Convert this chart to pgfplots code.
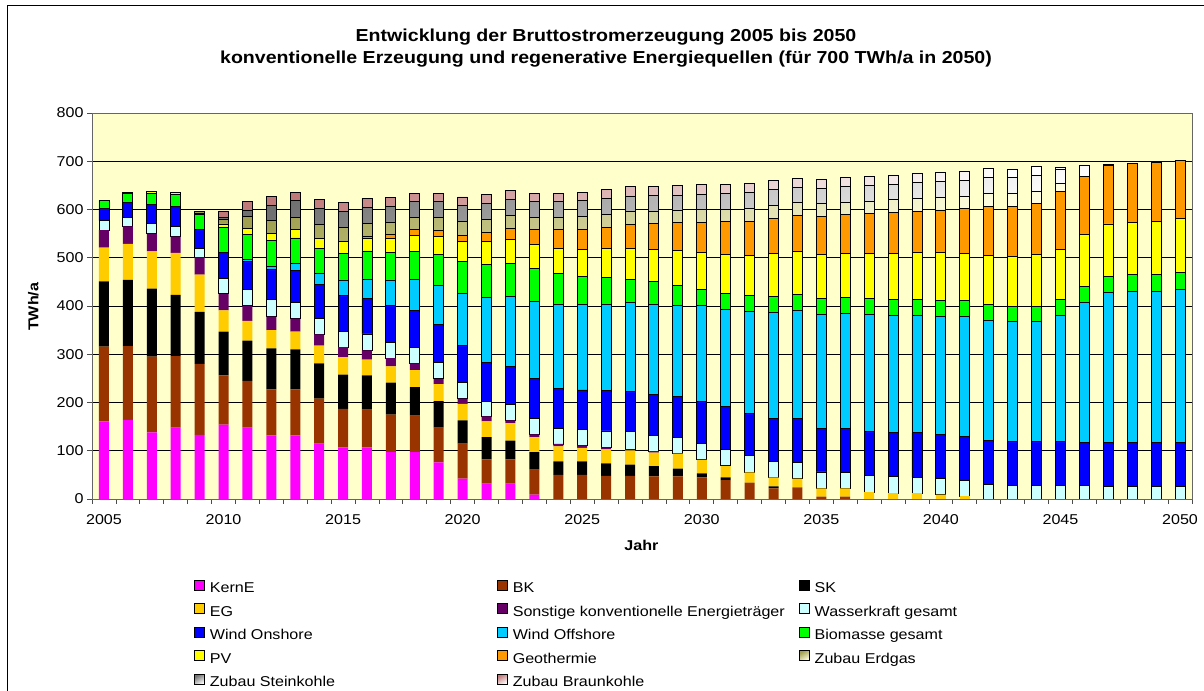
\documentclass[border=0pt]{standalone}
\usepackage{fontspec}
\setmainfont{Liberation Sans}[FakeStretch=1.13]
\usepackage{pgfplots}
\pgfplotsset{compat=1.18}
\usepackage{pgfplotstable}

\definecolor{cKern}{HTML}{FF00FF}
\definecolor{cBK}{HTML}{993300}
\definecolor{cSK}{HTML}{000000}
\definecolor{cEG}{HTML}{FFCC00}
\definecolor{cSon}{HTML}{660066}
\definecolor{cWas}{HTML}{CCFFFF}
\definecolor{cWon}{HTML}{0000FF}
\definecolor{cWof}{HTML}{00CCFF}
\definecolor{cBio}{HTML}{00FF00}
\definecolor{cPV}{HTML}{FFFF00}
\definecolor{cGeo}{HTML}{FF9900}
\definecolor{cGasA}{HTML}{A0A050}
\definecolor{cGasB}{HTML}{FFFFE0}
\definecolor{cStkA}{HTML}{707070}
\definecolor{cBkzA}{HTML}{C07878}
\definecolor{cBg}{HTML}{FFFFCC}

\pgfplotstableread{
year kern bk sk eg son was won wof bio pv geo gas stk bkz
2005 161 155 135 70 36 20 26 0 16 0 0 0 0 0
2006 164 153 137 75 36 19 31 0 19 2 0 0 0 0
2007 138 157 141 77 37 21 40 0 23 3 0 0 0 0
2008 148 148 127 87 34 20 42 0 26 4 0 0 0 0
2009 133 147 108 77 36 19 39 0 30 3 0 3 0 0
2010 154 102 91 44 34 32 54 0 51 8 0 10 4 13
2011 148 97 83 41 32 33 58 5 52 11 0 26 12 19
2012 132 95 85 38 28 35 62 7 53 15 0 27 32 18
2013 132 95 83 37 27 34 66 15 52 17 0 26 34 18
2014 115 93 73 37 23 33 71 23 52 19 0 30 33 19
2015 107 80 71 36 21 33 73 31 57 24 0 30 32 19
2016 107 78 71 33 19 34 73 41 58 25 5 28 32 19
2017 97 78 66 34 17 33 76 51 58 30 8 26 33 18
2018 97 76 59 35 14 33 77 64 58 34 11 26 33 17
2019 76 72 55 35 11 34 78 82 64 38 12 26 33 18
2020 42 73 48 34 11 33 77 108 66 41 14 28 33 18
2021 32 50 46 33 10 32 79 135 70 46 19 28 32 19
2022 32 50 39 36 6 32 80 144 70 48 24 27 33 18
2023 9 52 36 31 6 33 82 161 67 50 31 26 32 18
2024 0 50 28 31 5 33 82 175 63 53 38 26 32 18
2025 0 50 28 28 5 33 82 178 57 57 41 27 32 18
2026 0 48 26 29 4 34 83 180 55 60 44 27 32 19
2027 0 48 23 30 2 36 84 184 48 64 50 26 33 19
2028 0 47 21 28 3 33 85 187 46 68 53 26 33 18
2029 0 47 16 31 1 32 86 189 41 72 58 26 31 19
2030 0 45 8 28 1 33 87 200 33 76 63 26 32 19
2031 0 39 6 23 1 33 89 202 33 81 68 26 32 19
2032 0 34 0 21 0 35 88 211 32 84 71 27 32 19
2033 0 22 4 19 0 33 89 220 32 89 74 26 33 19
2034 0 24 0 18 0 34 90 224 33 90 75 26 32 19
2035 0 5 0 17 0 34 91 236 32 92 79 26 31 19
2036 0 5 0 17 0 33 91 238 33 92 80 26 32 19
2037 0 0 0 14 0 35 91 242 34 93 82 26 33 19
2038 0 0 0 12 0 35 91 243 33 95 84 27 32 19
2039 0 0 0 12 0 33 92 243 33 97 86 27 33 19
2040 0 0 0 9 0 33 92 245 33 98 89 26 33 19
2041 0 0 0 6 0 33 90 249 33 98 93 26 32 19
2042 0 0 0 0 0 30 92 248 33 102 102 26 33 19
2043 0 0 0 0 0 28 92 247 33 103 104 26 33 18
2044 0 0 0 0 0 28 91 249 32 106 106 26 33 19
2045 0 0 0 0 0 28 91 262 32 105 120 15 31 3
2046 0 0 0 0 0 28 90 290 32 108 120 0 23 0
2047 0 0 0 0 0 26 91 312 33 108 121 0 2 0
2048 0 0 0 0 0 26 91 314 34 109 121 0 1 0
2049 0 0 0 0 0 26 91 314 35 110 121 0 0 0
2050 0 0 0 0 0 26 91 317 35 113 120 0 0 0
}\data

\pgfplotsset{
  sq/.style={legend image code/.code={\draw[##1] (0bp,-1bp) rectangle (10bp,9bp);}},
  conv/.style={sq, draw=none},
  ren/.style={sq, draw=black, line width=0.9bp},
}
\newcommand{\fs}{\fontsize{14.3}{16}\selectfont}

\begin{document}
\begin{tikzpicture}
\path[use as bounding box] (0,0) rectangle (1204bp,691bp);
\draw[line width=1bp] (7bp,-10bp) -- (7bp,685bp) -- (1215bp,685bp);
\begin{axis}[
  at={(92bp,192bp)}, anchor=south west,
  scale only axis, width=1100bp, height=386bp,
  ybar stacked, bar width=10bp,
  xmin=2004.5, xmax=2050.5, ymin=0, ymax=800,
  xtick={2004.5,2005.5,...,2050.5}, xticklabel={\relax},
  extra x ticks={2005,2010,...,2050},
  extra x tick labels={2005,2010,2015,2020,2025,2030,2035,2040,2045,2050},
  extra x tick style={major tick length=0pt, grid=none},
  xticklabel style={yshift=-12bp},
  ytick={0,100,...,800},
  /pgf/number format/assume math mode=true,
  tick pos=left, tick align=outside, major tick length=5bp,
  tick style={draw=black!70, line width=0.8bp},
  ymajorgrids, major grid style={black, line width=0.6bp},
  axis line style={draw=black!60, line width=0.8bp},
  axis background/.style={fill=cBg},
  tick label style={font=\fs},
  ylabel={TWh/a},
  ylabel style={at={(axis description cs:-0.0532,0.498)}, anchor=center, font=\bfseries\fs},
  xlabel={Jahr},
  xlabel style={at={(axis description cs:0.4995,-0.119)}, anchor=center, font=\bfseries\fs},
  legend columns=3,
  legend cell align=left,
  legend style={at={(axis description cs:0.0927,-0.209)}, anchor=north west,
    draw=none, fill=none, inner sep=0pt, outer sep=0pt, font=\fs,
    row sep=5.7bp,
    /tikz/every odd column/.style={column sep=3bp},
    /tikz/every even column/.style={column sep=0bp},
    nodes={inner sep=2bp, text height=10bp, text depth=3bp}},
]
\addplot[conv, fill=cKern] table[x=year,y=kern]{\data};
\addlegendentry{\makebox[285bp][l]{KernE}}
\addplot[conv, fill=cBK] table[x=year,y=bk]{\data};
\addlegendentry{\makebox[284bp][l]{BK}}
\addplot[conv, fill=cSK] table[x=year,y=sk]{\data};
\addlegendentry{SK}
\addplot[conv, fill=cEG] table[x=year,y=eg]{\data};
\addlegendentry{\makebox[285bp][l]{EG}}
\addplot[conv, fill=cSon] table[x=year,y=son]{\data};
\addlegendentry{\makebox[284bp][l]{Sonstige konventionelle Energieträger}}
\addplot[ren, fill=cWas] table[x=year,y=was]{\data};
\addlegendentry{Wasserkraft gesamt}
\addplot[ren, fill=cWon] table[x=year,y=won]{\data};
\addlegendentry{\makebox[285bp][l]{Wind Onshore}}
\addplot[ren, fill=cWof] table[x=year,y=wof]{\data};
\addlegendentry{\makebox[284bp][l]{Wind Offshore}}
\addplot[ren, fill=cBio] table[x=year,y=bio]{\data};
\addlegendentry{Biomasse gesamt}
\addplot[ren, fill=cPV] table[x=year,y=pv]{\data};
\addlegendentry{\makebox[285bp][l]{PV}}
\addplot[ren, fill=cGeo] table[x=year,y=geo]{\data};
\addlegendentry{\makebox[284bp][l]{Geothermie}}
\addplot[ren, top color=cGasA, bottom color=cGasB, shading angle=30] table[x=year,y=gas]{\data};
\addlegendentry{Zubau Erdgas}
\addplot[ren, top color=cStkA, bottom color=white, shading angle=30] table[x=year,y=stk]{\data};
\addlegendentry{\makebox[285bp][l]{Zubau Steinkohle}}
\addplot[ren, top color=cBkzA, bottom color=white, shading angle=30] table[x=year,y=bkz]{\data};
\addlegendentry{\makebox[284bp][l]{Zubau Braunkohle}}
\end{axis}
\node[anchor=base, font=\bfseries\fontsize{17.4}{20}\selectfont] at (606bp,649.7bp) {Entwicklung der Bruttostromerzeugung 2005 bis 2050};
\node[anchor=base, font=\bfseries\fontsize{17.4}{20}\selectfont] at (606bp,627.7bp) {konventionelle Erzeugung und regenerative Energiequellen (für 700 TWh/a in 2050)};
\end{tikzpicture}
\end{document}
